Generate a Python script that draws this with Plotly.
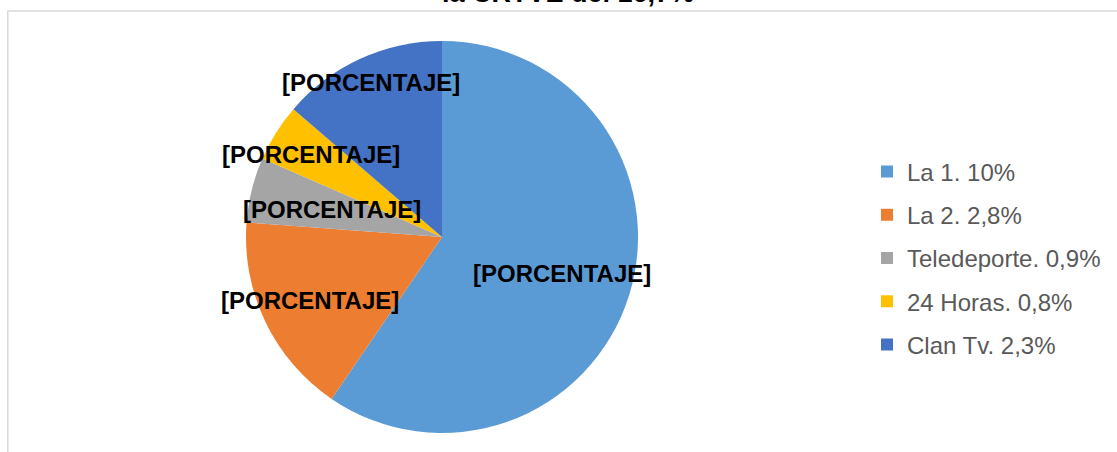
import math
import plotly.graph_objects as go

# data
canales = ["La 1. 10%", "La 2. 2,8%", "Teledeporte. 0,9%", "24 Horas. 0,8%", "Clan Tv. 2,3%"]
audiencia = [10, 2.8, 0.9, 0.8, 2.3]
etiquetas = ["[PORCENTAJE]"] * 5
titulo = "la CRTVE del 16,7%"

colores = ["#5b9bd5", "#ed7d31", "#a5a5a5", "#ffc000", "#4472c4"]

W, H = 1117, 452
cx, cy, R = 442, 237, 196          # pie centre / radius in px
frac_lbl = [0.64, 0.75, 0.58, 0.79, 0.87]  # label distance (fraction of radius)

fig = go.Figure()

fig.add_trace(go.Pie(
    labels=canales,
    values=audiencia,
    sort=False,
    direction="clockwise",
    rotation=0,
    marker=dict(colors=colores, line=dict(width=0)),
    textinfo="none",
    hoverinfo="label+value",
    showlegend=False,
    domain=dict(x=[(cx - R) / W, (cx + R) / W], y=[(H - cy - R) / H, (H - cy + R) / H]),
))

# legend entries (separate groups so they can be spaced out)
for i, (c, col) in enumerate(zip(canales, colores)):
    fig.add_trace(go.Scatter(
        x=[None], y=[None], mode="markers", name=c,
        marker=dict(symbol="square", size=12, color=col),
        legendgroup="g%d" % i, showlegend=True,
    ))

# data labels along the mid angle of each slice
total = sum(audiencia)
acum = 0
annots = []
for v, txt, f in zip(audiencia, etiquetas, frac_lbl):
    ang = math.radians((acum + v / 2) / total * 360)
    acum += v
    px = cx + R * f * math.sin(ang)
    py = cy - R * f * math.cos(ang)
    annots.append(dict(
        x=px / W, y=1 - py / H, xref="paper", yref="paper",
        text=txt, showarrow=False, xanchor="center", yanchor="middle",
        font=dict(family="Liberation Sans, Arial", size=24, color="black", weight="bold"),
    ))

# title is partly cut off at the top, as in the original
annots.append(dict(
    x=568 / W, y=1 + 7.5 / H, xref="paper", yref="paper", text=titulo,
    showarrow=False, xanchor="center", yanchor="middle",
    font=dict(family="Liberation Sans, Arial", size=27, color="black", weight="bold"),
))

fig.update_layout(
    width=W, height=H,
    margin=dict(l=0, r=0, t=0, b=0),
    paper_bgcolor="white",
    plot_bgcolor="white",
    xaxis=dict(visible=False),
    yaxis=dict(visible=False),
    annotations=annots,
    legend=dict(
        x=867 / W, xanchor="left", y=1 - 258 / H, yanchor="middle",
        font=dict(family="Liberation Sans, Arial", size=24, color="#595959"),
        tracegroupgap=9, bgcolor="rgba(0,0,0,0)",
    ),
    shapes=[dict(
        type="rect", xref="paper", yref="paper",
        x0=7.8 / W, x1=1.05, y0=-0.05, y1=1 - 11 / H,
        line=dict(color="#d9d9d9", width=1.5), fillcolor="rgba(0,0,0,0)", layer="below",
    )],
)

fig.write_html("out.html", config={"displayModeBar": False},
               post_script="document.body.style.margin='0';")
